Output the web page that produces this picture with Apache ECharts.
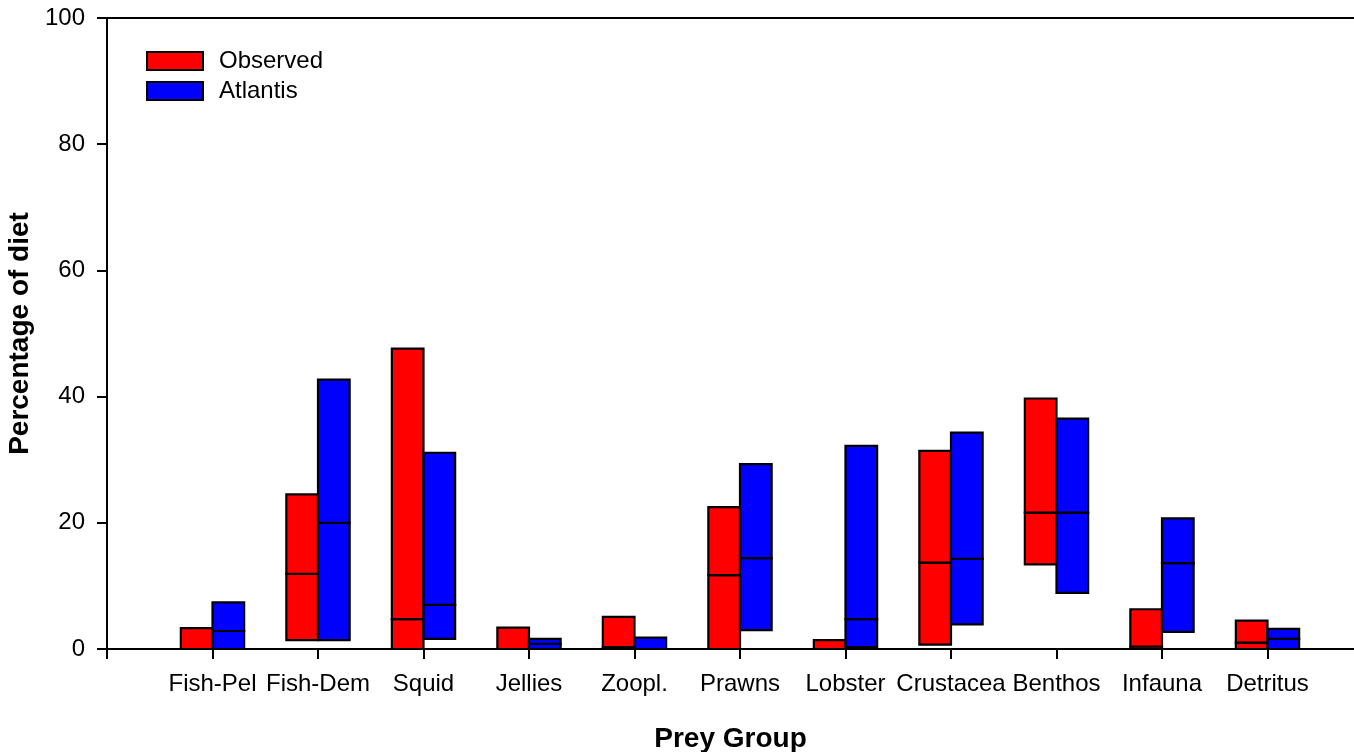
<!DOCTYPE html>
<html>
<head>
<meta charset="utf-8">
<script src="https://cdn.jsdelivr.net/npm/echarts@6/dist/echarts.min.js"></script>
<style>
  html, body { margin: 0; padding: 0; background: #fff; overflow: hidden; }
  #chart { width: 1354px; height: 752px; }
</style>
</head>
<body>
<div id="chart"></div>
<script>
// Prey groups along the x axis (positions 1..11)
const categories = ['Fish-Pel', 'Fish-Dem', 'Squid', 'Jellies', 'Zoopl.', 'Prawns',
                    'Lobster', 'Crustacea', 'Benthos', 'Infauna', 'Detritus'];

// Observed diet: low / median / high percentage
const obsLow  = [0,   1.4,  0,    0,   0,   0,    0,   0.7,  13.4, 0,   0];
const obsMid  = [0,   11.9, 4.75, 0,   0.3, 11.7, 0,   13.7, 21.6, 0.4, 1.0];
const obsHigh = [3.3, 24.5, 47.6, 3.4, 5.1, 22.5, 1.4, 31.4, 39.7, 6.3, 4.5];

// Atlantis model diet: low / median / high percentage
const atlLow  = [0,    1.4,  1.6,  0,   0,   3.0,  0.3,  3.9,  8.9,  2.7,  0];
const atlMid  = [2.85, 20.0, 7.0,  0.8, 0,   14.4, 4.75, 14.3, 21.6, 13.6, 1.6];
const atlHigh = [7.4,  42.7, 31.1, 1.6, 1.8, 29.3, 32.2, 34.3, 36.5, 20.7, 3.2];

const yTicks = [0, 20, 40, 60, 80, 100];
const xTickValues = categories.map((c, i) => i).concat([categories.length]); // 0..11
const xLabelValues = categories.map((c, i) => i + 1);                        // 1..11

const FONT = "'Liberation Sans', Arial, Helvetica, sans-serif";
const BAR_W = 0.3;   // bar width in category units
const X_MAX = 11.82; // axis runs past the last group to the right edge

const obsData = categories.map((c, i) => [i + 1, obsLow[i], obsMid[i], obsHigh[i]]);
const atlData = categories.map((c, i) => [i + 1, atlLow[i], atlMid[i], atlHigh[i]]);

// Floating range bar split at the median: lower box (low..mid) and upper box (mid..high)
function rangeBar(offL, offR) {
  return function (params, api) {
    const x = api.value(0);
    const lo = api.coord([x + offL, api.value(1)]);
    const md = api.coord([x + offR, api.value(2)]);
    const hi = api.coord([x + offL, api.value(3)]);
    const w = md[0] - lo[0];
    const style = { fill: api.visual('color'), stroke: '#000', lineWidth: 2.2 };
    return {
      type: 'group',
      children: [
        { type: 'rect', shape: { x: lo[0], y: md[1], width: w, height: lo[1] - md[1] }, style: style },
        { type: 'rect', shape: { x: lo[0], y: hi[1], width: w, height: md[1] - hi[1] }, style: style }
      ]
    };
  };
}

const axisLineStyle = { color: '#000', width: 2 };

const chart = echarts.init(document.getElementById('chart'));
chart.setOption({
  animation: false,
  backgroundColor: '#fff',
  textStyle: { fontFamily: FONT },
  grid: { left: 107, top: 18, right: 0, bottom: 103, containLabel: false, outerBoundsMode: 'none' },
  legend: {
    orient: 'vertical',
    left: 146,
    top: 49,
    padding: 0,
    itemWidth: 56,
    itemHeight: 18,
    itemGap: 6,
    selectedMode: false,
    textStyle: { fontSize: 24, color: '#000', fontFamily: FONT, padding: [0, 0, 0, 11] },
    data: [
      { name: 'Observed', icon: 'rect', itemStyle: { color: '#ff0000', borderColor: '#000', borderWidth: 2 } },
      { name: 'Atlantis', icon: 'rect', itemStyle: { color: '#0000ff', borderColor: '#000', borderWidth: 2 } }
    ]
  },
  xAxis: [
    {
      type: 'value',
      min: 0,
      max: X_MAX,
      interval: 1,
      position: 'bottom',
      axisLine: { show: true, onZero: false, lineStyle: axisLineStyle },
      axisTick: { show: true, length: 10, lineStyle: axisLineStyle, customValues: xTickValues },
      splitLine: { show: false },
      axisLabel: {
        fontSize: 24,
        color: '#000',
        fontFamily: FONT,
        margin: 23,
        customValues: xLabelValues,
        formatter: function (v) {
          const k = Math.round(v);
          return (k >= 1 && k <= categories.length) ? categories[k - 1] : '';
        }
      },
      name: 'Prey Group',
      nameLocation: 'middle',
      nameGap: 76,
      nameTextStyle: { fontSize: 28, fontWeight: 'bold', color: '#000', fontFamily: FONT }
    },
    {
      type: 'value',
      min: 0,
      max: X_MAX,
      position: 'top',
      axisLine: { show: true, onZero: false, lineStyle: axisLineStyle },
      axisTick: { show: false },
      axisLabel: { show: false },
      splitLine: { show: false }
    }
  ],
  yAxis: {
    type: 'value',
    min: yTicks[0],
    max: yTicks[yTicks.length - 1],
    interval: yTicks[1] - yTicks[0],
    axisLine: { show: true, onZero: false, lineStyle: axisLineStyle },
    axisTick: { show: true, length: 10, lineStyle: axisLineStyle },
    splitLine: { show: false },
    axisLabel: { fontSize: 24, color: '#000', fontFamily: FONT, margin: 22 },
    name: 'Percentage of diet',
    nameLocation: 'middle',
    nameRotate: 90,
    nameGap: 66,
    nameTextStyle: { fontSize: 28, fontWeight: 'bold', color: '#000', fontFamily: FONT }
  },
  series: [
    {
      name: 'Observed',
      type: 'custom',
      xAxisIndex: 0,
      itemStyle: { color: '#ff0000' },
      encode: { x: 0, y: [1, 2, 3] },
      renderItem: rangeBar(-BAR_W, 0),
      data: obsData
    },
    {
      name: 'Atlantis',
      type: 'custom',
      xAxisIndex: 0,
      itemStyle: { color: '#0000ff' },
      encode: { x: 0, y: [1, 2, 3] },
      renderItem: rangeBar(0, BAR_W),
      data: atlData
    }
  ]
});
</script>
</body>
</html>
